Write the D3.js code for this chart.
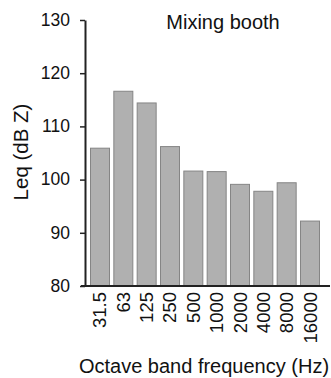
<!DOCTYPE html>
<html><head><meta charset="utf-8">
<script src="https://cdn.jsdelivr.net/npm/d3@7"></script>
<style>body{margin:0;background:#fff}svg{display:block}text{font-family:"Liberation Sans",Arial,sans-serif;fill:#111}</style>
</head><body>
<script>
const categories = ["31.5","63","125","250","500","1000","2000","4000","8000","16000"];
const values = [106.0,116.7,114.5,106.3,101.7,101.6,99.2,97.9,99.5,92.3];
const yTicks = [80,90,100,110,120,130];
const title = "Mixing booth";
const xTitle = "Octave band frequency (Hz)";
const yTitle = "Leq (dB Z)";

const W=331,H=378;
const svg=d3.select("body").append("svg").attr("width",W).attr("height",H);
const x=d3.scaleBand().domain(categories).range([88.33,321.67]).paddingInner(0.143).paddingOuter(0.0715);
const y=d3.scaleLinear().domain([80,130]).range([286,20]);

svg.append("g").selectAll("rect").data(values).join("rect")
  .attr("x",(d,i)=>x(categories[i])+0.5).attr("width",x.bandwidth()-1)
  .attr("y",d=>y(d)+0.5).attr("height",d=>y(80)-y(d)-0.5)
  .attr("fill","#b0b0b0").attr("stroke","#858585").attr("stroke-width",1);

const ya=svg.append("g").attr("transform","translate(85,0)")
  .call(d3.axisLeft(y).tickValues(yTicks).tickSize(5).tickSizeOuter(0).tickPadding(10));
ya.select(".domain").attr("stroke","#222").attr("stroke-width",2);
ya.selectAll(".tick line").attr("stroke","#222").attr("stroke-width",1.5);
ya.selectAll(".tick text").attr("font-size",17.5).attr("fill","#111").attr("font-family","Liberation Sans, Arial, sans-serif").attr("dy","0.3em");

const xa=svg.append("g").attr("transform","translate(0,286)")
  .call(d3.axisBottom(x).tickSize(0).tickSizeOuter(0).tickPadding(0));
xa.select(".domain").attr("stroke","#222").attr("stroke-width",2).attr("d","M81,0H330");
xa.selectAll(".tick text").attr("font-size",18.5).attr("fill","#111").attr("font-family","Liberation Sans, Arial, sans-serif")
  .attr("text-anchor","end").attr("dy",null).attr("y",0)
  .attr("transform","translate(6.5,6) rotate(-90)");

svg.append("text").attr("x",223).attr("y",29).attr("text-anchor","middle").attr("font-size",20).text(title);
svg.append("text").attr("x",204).attr("y",373).attr("text-anchor","middle").attr("font-size",20).text(xTitle);
svg.append("text").attr("transform","translate(27.5,152) rotate(-90)").attr("text-anchor","middle").attr("font-size",20.5).text(yTitle);
</script>
</body></html>
